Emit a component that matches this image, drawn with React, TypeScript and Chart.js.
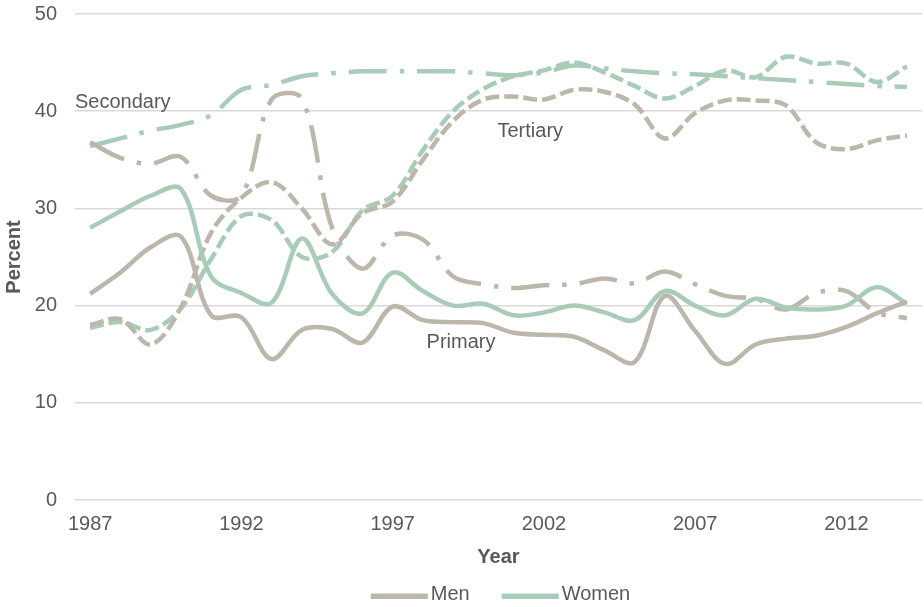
import React, { useEffect, useRef } from "react";
import { Chart, registerables } from "chart.js";

Chart.register(...registerables);

const years = [
  "1987", "1988", "1989", "1990", "1991", "1992", "1993", "1994", "1995", "1996",
  "1997", "1998", "1999", "2000", "2001", "2002", "2003", "2004", "2005", "2006",
  "2007", "2008", "2009", "2010", "2011", "2012", "2013", "2014",
];

const menPrimary = [
  21.2, 23.4, 26.0, 27.1, 19.0, 18.8, 14.5, 17.5, 17.6, 16.2,
  19.9, 18.5, 18.3, 18.2, 17.2, 17.0, 16.8, 15.4, 14.2, 21.0,
  17.4, 14.0, 16.0, 16.6, 16.9, 17.8, 19.2, 20.4,
];
const womenPrimary = [
  28.0, 29.7, 31.3, 32.0, 23.0, 21.3, 20.3, 26.9, 21.2, 19.2,
  23.4, 21.5, 20.0, 20.2, 19.0, 19.3, 20.0, 19.3, 18.5, 21.5,
  20.0, 19.0, 20.7, 19.8, 19.6, 20.0, 21.9, 20.2,
];
const menSecondary = [
  36.8, 35.2, 34.6, 35.3, 31.3, 31.3, 41.2, 41.3, 28.0, 23.8,
  27.2, 26.8, 23.0, 22.2, 21.8, 22.1, 22.2, 22.8, 22.3, 23.5,
  22.2, 21.0, 20.7, 19.6, 21.3, 21.5, 19.3, 18.7,
];
const womenSecondary = [
  36.4, 37.2, 38.0, 38.6, 39.6, 42.2, 42.7, 43.6, 43.9, 44.1,
  44.1, 44.1, 44.1, 43.9, 43.7, 44.0, 44.7, 44.4, 44.1, 43.9,
  43.8, 43.6, 43.4, 43.2, 43.0, 42.8, 42.6, 42.5,
];
const menTertiary = [
  18.0, 18.6, 16.0, 19.8, 27.5, 31.1, 32.7, 30.0, 26.3, 29.5,
  30.7, 35.0, 39.0, 41.2, 41.5, 41.2, 42.2, 42.0, 40.7, 37.2,
  39.8, 41.1, 41.1, 40.6, 36.8, 36.1, 37.0, 37.5,
];
const womenTertiary = [
  17.7, 18.3, 17.5, 19.7, 24.8, 29.2, 28.8, 25.0, 25.5, 29.8,
  31.3, 36.0, 40.0, 42.3, 43.6, 44.2, 45.0, 44.0, 42.6, 41.3,
  42.6, 44.2, 43.5, 45.6, 44.9, 44.9, 43.0, 44.6,
];

const legendLabels = ["Men", "Women"];
const annotationTexts = ["Secondary", "Tertiary", "Primary"];
const annotationX = [-0.5, 14.55, 12.26];
const annotationY = [40.9, 37.9, 16.2];
const annotationAlign = ["left", "center", "center"];

const TAN = "#BDB6AB";
const GREEN = "#A8CCB8";
const TEXT = "#595959";
const GRID = "#D9D9D9";
const FONT = "'Liberation Sans', Arial, sans-serif";
const LW = 4.5;
const DASH_DOT = [38, 13, 4.5, 13];
const DASH = [14, 5];

export default function App() {
  const ref = useRef<HTMLCanvasElement>(null);

  useEffect(() => {
    document.body.style.margin = "0";
    const canvas = ref.current;
    if (!canvas) return;

    const textPlugin = {
      id: "textLabels",
      afterDatasetsDraw(chart: any) {
        const { ctx, scales } = chart;
        ctx.save();
        ctx.font = `20px ${FONT}`;
        ctx.fillStyle = TEXT;
        ctx.textBaseline = "middle";
        annotationTexts.forEach((t, i) => {
          ctx.textAlign = annotationAlign[i] as CanvasTextAlign;
          const x = scales.x.getPixelForValue(annotationX[i]);
          const y = scales.y.getPixelForValue(annotationY[i]);
          ctx.fillText(t, x, y);
        });
        ctx.restore();
      },
      afterDraw(chart: any) {
        const { ctx, chartArea } = chart;
        ctx.save();
        ctx.font = `20px ${FONT}`;
        const lineLen = 57;
        const gap = 3;
        const itemGap = 32;
        const colors = [TAN, GREEN];
        const widths = legendLabels.map((l) => lineLen + gap + ctx.measureText(l).width);
        const total = widths.reduce((a, b) => a + b, 0) + itemGap * (widths.length - 1);
        let x = (chartArea.left + chartArea.right) / 2 - total / 2 + 2;
        const y = chart.height - 11;
        legendLabels.forEach((l, i) => {
          ctx.fillStyle = colors[i];
          ctx.fillRect(x, y - 2.5, lineLen, 5.5);
          ctx.fillStyle = TEXT;
          ctx.textAlign = "left";
          ctx.textBaseline = "middle";
          ctx.fillText(l, x + lineLen + gap, y - 2);
          x += widths[i] + itemGap;
        });
        ctx.restore();
      },
    };

    const mk = (label: string, data: number[], color: string, dash: number[]) => ({
      label,
      data,
      borderColor: color,
      backgroundColor: color,
      borderWidth: LW,
      borderDash: dash,
      borderCapStyle: "butt" as const,
      pointRadius: 0,
      pointHoverRadius: 0,
      tension: 0.35,
      fill: false,
    });

    const chart = new Chart(canvas, {
      type: "line",
      data: {
        labels: years,
        datasets: [
          mk("Men", menPrimary, TAN, []),
          mk("Women", womenPrimary, GREEN, []),
          mk("Men secondary", menSecondary, TAN, DASH_DOT),
          mk("Women secondary", womenSecondary, GREEN, DASH_DOT),
          mk("Men tertiary", menTertiary, TAN, DASH),
          mk("Women tertiary", womenTertiary, GREEN, DASH),
        ],
      },
      options: {
        animation: false,
        responsive: true,
        maintainAspectRatio: false,
        layout: { padding: { top: 2, right: 2, left: 2, bottom: 38 } },
        font: { family: FONT },
        plugins: {
          legend: { display: false },
          tooltip: { enabled: false },
        },
        scales: {
          x: {
            offset: true,
            grid: { display: false, drawTicks: false },
            border: { display: false },
            ticks: {
              autoSkip: false,
              maxRotation: 0,
              padding: 12,
              color: TEXT,
              font: { family: FONT, size: 20 },
              callback: (_v: any, i: number) => (i % 5 === 0 ? years[i] : ""),
            },
            title: {
              display: true,
              text: "Year",
              color: TEXT,
              font: { family: FONT, size: 20, weight: "bold" },
              padding: { top: 8, bottom: 0 },
            },
            afterFit: (s: any) => {
              s.paddingLeft = 0;
              s.paddingRight = 0;
              s.height = 69;
            },
          },
          y: {
            min: 0,
            max: 50,
            grid: { color: GRID, lineWidth: 1.5, drawTicks: false },
            border: { display: false },
            ticks: {
              stepSize: 10,
              padding: 18,
              color: TEXT,
              font: { family: FONT, size: 20 },
            },
            title: {
              display: true,
              text: "Percent",
              color: TEXT,
              font: { family: FONT, size: 20, weight: "bold" },
              padding: { top: 0, bottom: 9 },
            },
            afterFit: (s: any) => {
              s.paddingTop = 14;
              s.paddingBottom = 0;
              s.width = 73;
            },
          },
        },
      },
      plugins: [textPlugin],
    });

    return () => chart.destroy();
  }, []);

  return (
    <div style={{ position: "fixed", left: 0, top: 0, width: 924, height: 607 }}>
      <canvas ref={ref} />
    </div>
  );
}
